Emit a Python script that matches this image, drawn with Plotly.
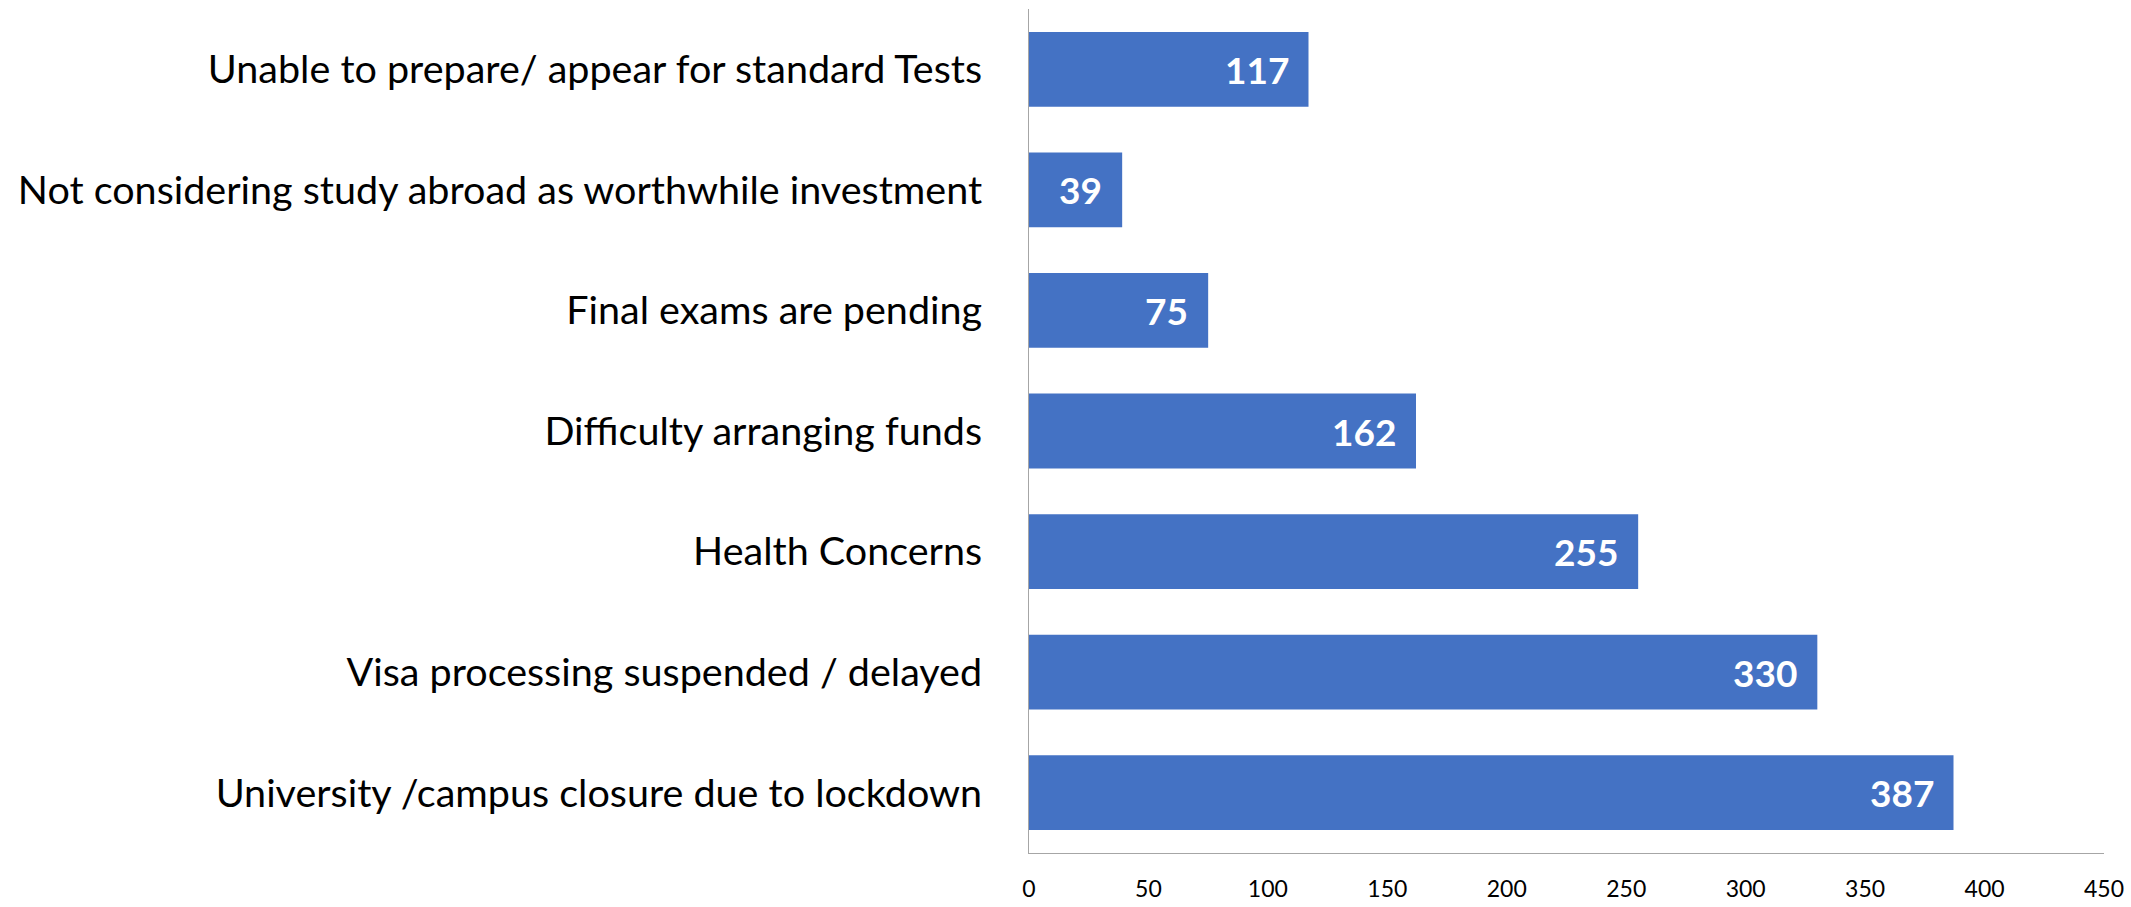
import plotly.graph_objects as go

# reasons, listed top to bottom as in the chart
reasons = [
    "Unable to prepare/ appear for standard Tests",
    "Not considering study abroad as worthwhile investment",
    "Final exams are pending",
    "Difficulty arranging funds",
    "Health Concerns",
    "Visa processing suspended / delayed",
    "University /campus closure due to lockdown",
]
counts = [117, 39, 75, 162, 255, 330, 387]

x_ticks = [0, 50, 100, 150, 200, 250, 300, 350, 400, 450]

bar_color = "#4472C4"
axis_color = "#A6A6A6"

fig = go.Figure(go.Bar(
    x=counts,
    y=reasons,
    orientation="h",
    marker=dict(color=bar_color, line=dict(width=0)),
    hoverinfo="skip",
))

# value labels inside the bar ends
for r, c in zip(reasons, counts):
    fig.add_annotation(
        x=c, y=r, text="<b>%d</b>" % c, showarrow=False,
        xanchor="right", xshift=-18,
        font=dict(family="Lato", size=37, color="white"),
    )

fig.update_layout(
    width=2131, height=907,
    margin=dict(l=1029, r=27, t=9, b=54),
    plot_bgcolor="white", paper_bgcolor="white",
    bargap=0.38,
    showlegend=False,
    font=dict(family="Lato", color="black"),
)
fig.update_xaxes(
    range=[0, 450], tickvals=x_ticks, showgrid=False, zeroline=False,
    showline=True, linecolor=axis_color, linewidth=1, automargin=False,
    tickfont=dict(size=23, color="black"), ticks="", ticklabelstandoff=15,
)
fig.update_yaxes(
    autorange="reversed", showgrid=False, zeroline=False,
    showline=True, linecolor=axis_color, linewidth=1, automargin=False,
    tickfont=dict(size=39.5, color="black"), ticks="", ticklabelstandoff=38,
)

# page body has a default 8px margin; drop it so the figure fills the window
fig.write_html("out.html", config={"displayModeBar": False},
               post_script="document.body.style.margin='0';")
